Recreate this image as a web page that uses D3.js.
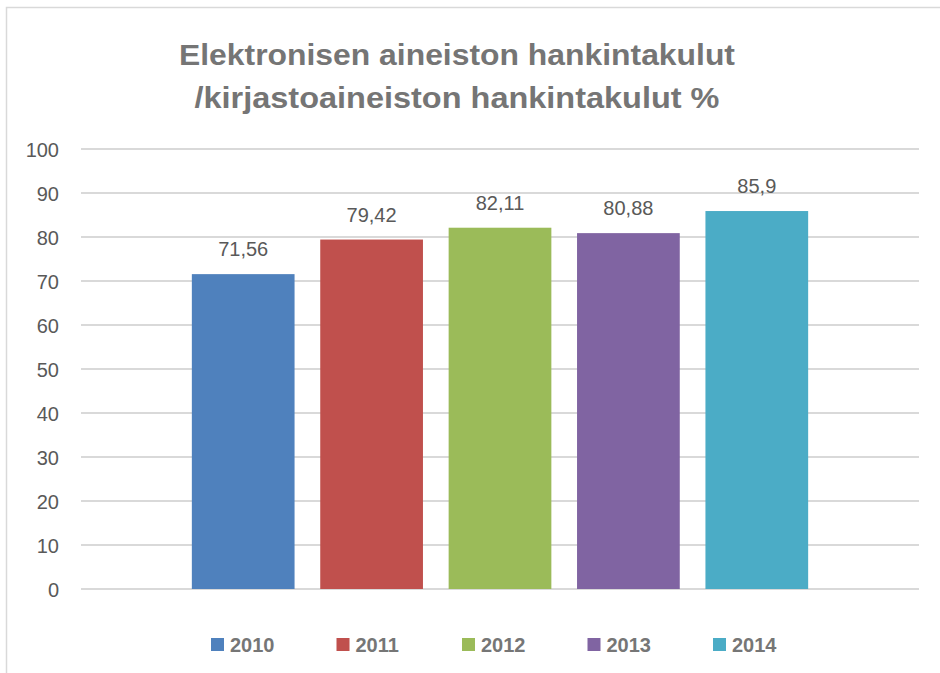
<!DOCTYPE html>
<html>
<head>
<meta charset="utf-8">
<script src="https://cdn.jsdelivr.net/npm/d3@7"></script>
<style>
  body { margin: 0; background: #fff; }
  svg { display: block; font-family: "Liberation Sans", Arial, sans-serif; }
</style>
</head>
<body>
<div id="chart"></div>
<script>
const years = ["2010", "2011", "2012", "2013", "2014"];
const values = [71.56, 79.42, 82.11, 80.88, 85.9];
const colors = ["#4f81bd", "#c0504d", "#9bbb59", "#8064a2", "#4bacc6"];
const yTicks = [0, 10, 20, 30, 40, 50, 60, 70, 80, 90, 100];
const titleLines = ["Elektronisen aineiston hankintakulut", "/kirjastoaineiston hankintakulut %"];

const width = 940, height = 673;
const plot = { left: 81, right: 919, top: 149, bottom: 589 };

const svg = d3.select("#chart")
  .append("svg")
  .attr("width", width)
  .attr("height", height);

// chart area frame
svg.append("rect")
  .attr("x", 6.5)
  .attr("y", 7.5)
  .attr("width", 960)
  .attr("height", 700)
  .attr("fill", "#fff")
  .attr("stroke", "#d9d9d9")
  .attr("stroke-width", 1.5);

// title (widths matched to the original narrow font)
const titleWidths = [556, 525];
svg.append("g")
  .selectAll("text")
  .data(titleLines)
  .join("text")
  .attr("x", 457)
  .attr("y", (d, i) => 65 + i * 43)
  .attr("text-anchor", "middle")
  .attr("font-size", 29)
  .attr("font-weight", "bold")
  .attr("fill", "#757575")
  .attr("textLength", (d, i) => titleWidths[i])
  .attr("lengthAdjust", "spacingAndGlyphs")
  .text(d => d);

const y = d3.scaleLinear()
  .domain([0, 100])
  .range([plot.bottom, plot.top]);

// one category, five series side by side
const x = d3.scaleBand()
  .domain(years)
  .range([179, 821])
  .paddingInner(0.2)
  .paddingOuter(0.1);

// gridlines
svg.append("g")
  .selectAll("line")
  .data(yTicks)
  .join("line")
  .attr("x1", plot.left)
  .attr("x2", plot.right)
  .attr("y1", d => y(d))
  .attr("y2", d => y(d))
  .attr("stroke", "#d9d9d9")
  .attr("stroke-width", 2);

// y axis labels
const yAxis = svg.append("g")
  .attr("transform", `translate(${plot.left - 22}, 0)`)
  .call(d3.axisLeft(y).tickValues(yTicks).tickSize(0).tickPadding(0));
yAxis.select(".domain").remove();
yAxis.selectAll("text")
  .attr("font-family", "Liberation Sans, Arial, sans-serif")
  .attr("font-size", 20)
  .attr("fill", "#595959")
  .attr("dy", "0.36em");

// bars
svg.append("g")
  .selectAll("rect")
  .data(values)
  .join("rect")
  .attr("x", (d, i) => x(years[i]))
  .attr("y", d => y(d))
  .attr("width", x.bandwidth())
  .attr("height", d => y(0) - y(d))
  .attr("fill", (d, i) => colors[i]);

// data labels
svg.append("g")
  .selectAll("text")
  .data(values)
  .join("text")
  .attr("x", (d, i) => x(years[i]) + x.bandwidth() / 2)
  .attr("y", d => y(d) - 18)
  .attr("text-anchor", "middle")
  .attr("font-size", 20)
  .attr("fill", "#595959")
  .text(d => String(d).replace(".", ","));

// legend
const legend = svg.append("g")
  .selectAll("g")
  .data(years)
  .join("g")
  .attr("transform", (d, i) => `translate(${211 + i * 125.5}, 638)`);

legend.append("rect")
  .attr("width", 13)
  .attr("height", 13)
  .attr("fill", (d, i) => colors[i]);

legend.append("text")
  .attr("x", 19)
  .attr("y", 13.5)
  .attr("font-size", 20)
  .attr("font-weight", "bold")
  .attr("fill", "#767676")
  .text(d => d);
</script>
</body>
</html>
